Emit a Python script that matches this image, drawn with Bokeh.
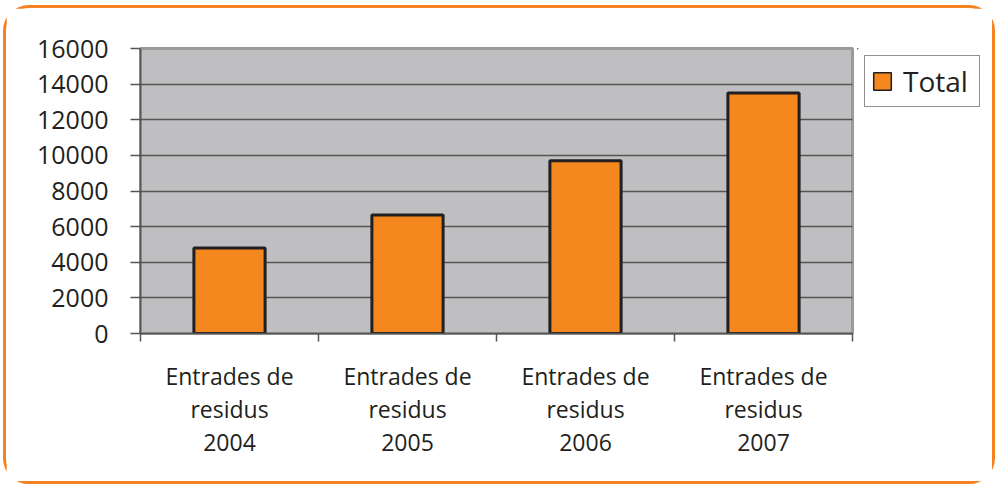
from bokeh.plotting import figure
from bokeh.layouts import row
from bokeh.models import (ColumnDataSource, FixedTicker, Range1d, Legend, LegendItem)
from bokeh.embed import file_html
from bokeh.resources import INLINE

categories = ["Entrades de\nresidus\n2004", "Entrades de\nresidus\n2005",
              "Entrades de\nresidus\n2006", "Entrades de\nresidus\n2007"]
totals = [4800, 6650, 9700, 13500]
y_ticks = [0, 2000, 4000, 6000, 8000, 10000, 12000, 14000, 16000]
series_name = "Total"

FONT = "Open Sans"
TXT = "#231F20"
ORANGE = "#F5871F"

xc = [i + 0.5 for i in range(len(categories))]
src = ColumnDataSource(dict(x=xc, top=totals))

H = 473
p = figure(frame_width=712, frame_height=285, output_backend="svg",
           toolbar_location=None,
           x_range=Range1d(0, len(categories)), y_range=Range1d(0, 16000),
           min_border_left=134, min_border_right=5, min_border_top=40,
           min_border_bottom=148, background_fill_color="#BFBFC1",
           border_fill_color="white")
p.outline_line_color = "#9A9A9A"
p.outline_line_width = 3

r = p.vbar(x="x", top="top", width=0.4, source=src, fill_color=ORANGE,
           line_color=TXT, line_width=3)

# grid
p.xgrid.visible = False
p.ygrid.ticker = FixedTicker(ticks=y_ticks)
p.ygrid.grid_line_color = "#555555"
p.ygrid.grid_line_width = 1.5

# y axis
ya = p.yaxis[0]
ya.ticker = FixedTicker(ticks=y_ticks)
ya.major_label_text_font = FONT
ya.major_label_text_font_size = "25px"
ya.major_label_text_color = TXT
ya.axis_line_color = "#555555"
ya.axis_line_width = 1.5
ya.major_tick_out = 10
ya.major_tick_in = 0
ya.major_tick_line_color = "#555555"
ya.major_tick_line_width = 1.5
ya.minor_tick_line_color = None
ya.major_label_standoff = 22

# x axis: labels at centres, tick marks at boundaries
xa = p.xaxis[0]
xa.ticker = FixedTicker(ticks=xc, minor_ticks=list(range(len(categories) + 1)))
xa.major_label_overrides = {x: c for x, c in zip(xc, categories)}
xa.major_label_text_font = FONT
xa.major_label_text_font_size = "23px"
xa.major_label_text_color = TXT
xa.major_label_text_line_height = 1.04
xa.major_label_standoff = 18
xa.major_tick_out = 0
xa.major_tick_in = 0
xa.minor_tick_out = 8
xa.minor_tick_in = 0
xa.minor_tick_line_color = "#555555"
xa.minor_tick_line_width = 1.5
xa.axis_line_color = "#555555"
xa.axis_line_width = 1.5

# legend panel (key renderer shares the data but lies outside its own ranges)
lp = figure(width=135, height=H, output_backend="svg", toolbar_location=None,
            x_range=Range1d(100, 101), y_range=Range1d(-200000, -100000),
            min_border_left=0, min_border_right=0, min_border_bottom=0,
            min_border_top=17, background_fill_color="white",
            border_fill_color="white")
lp.axis.visible = False
lp.grid.visible = False
lp.outline_line_color = None
key = lp.vbar(x="x", top="top", width=0.4, source=src, fill_color=ORANGE,
              line_color=TXT, line_width=1.5)
legend = Legend(items=[LegendItem(label=series_name, renderers=[key])],
                location="top_left", border_line_color=TXT, border_line_width=1.5,
                background_fill_color="white", background_fill_alpha=1,
                label_text_font=FONT, label_text_font_size="28px",
                label_text_color=TXT, glyph_width=22, glyph_height=22,
                padding=6, margin=7, label_standoff=10, label_height=28,
                label_width=70)
lp.add_layout(legend, "center")

layout = row(p, lp)
layout.styles = {"border": "3px solid #F58220", "border-radius": "26px",
                 "margin": "5px 0 0 3px"}

open("out.html", "w").write(file_html(layout, INLINE))
